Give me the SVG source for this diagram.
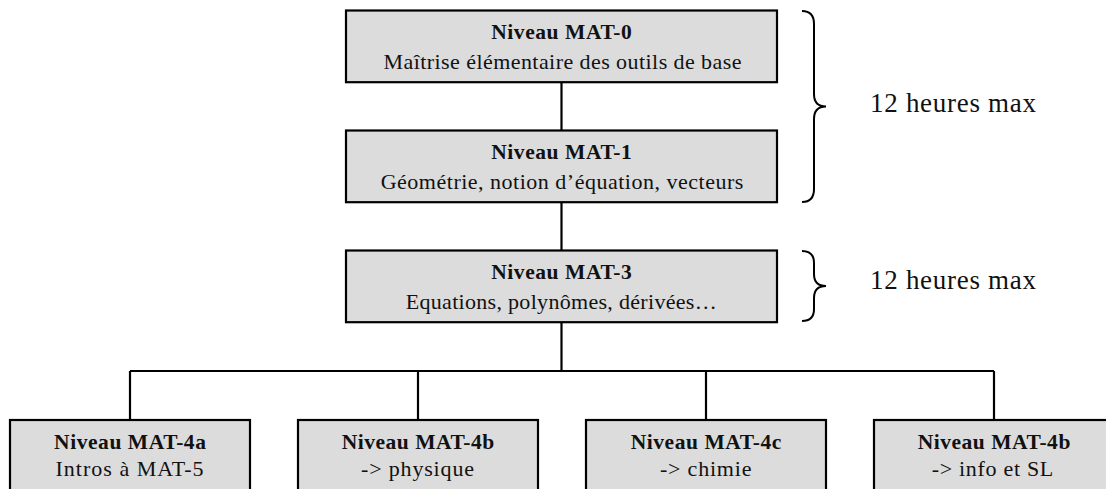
<svg xmlns="http://www.w3.org/2000/svg" width="1106" height="489" viewBox="0 0 1106 489">
<style>
.box{fill:#dcdcdc;stroke:#000;stroke-width:2.2}
.ln{fill:none;stroke:#000;stroke-width:2.2}
.br{fill:none;stroke:#000;stroke-width:2}
text{font-family:"Liberation Serif","Times New Roman",serif;fill:#111;text-anchor:middle}
.t{font-size:21.5px;font-weight:bold}
.s{font-size:22px}
.h{font-size:27px;text-anchor:start}
</style>
<rect width="1106" height="489" fill="#fff"/>
<g id="connectors">
<path class="ln" d="M561.5,82 V131 M561.5,202 V251 M561.5,322 V371 M130,371 H994 M130,371 V420 M418,371 V420 M706,371 V420 M994,371 V420"/>
</g>
<g id="mat0">
<rect class="box" x="346" y="10.5" width="431" height="71.7"/>
<text class="t" x="561.5" y="39.3" textLength="140.6">Niveau MAT-0</text>
<text class="s" x="562.5" y="69" textLength="358">Maîtrise élémentaire des outils de base</text>
</g>
<g id="mat1">
<rect class="box" x="346" y="130.5" width="431" height="71.7"/>
<text class="t" x="561.5" y="159.3" textLength="140.6">Niveau MAT-1</text>
<text class="s" x="562" y="189.3" textLength="362.6">Géométrie, notion d’équation, vecteurs</text>
</g>
<g id="mat3">
<rect class="box" x="346" y="250.5" width="431" height="71.7"/>
<text class="t" x="561.5" y="279.3" textLength="140.6">Niveau MAT-3</text>
<text class="s" x="561.2" y="308.5" textLength="311">Equations, polynômes, dérivées…</text>
</g>
<g id="brace1">
<path class="br" d="M802,11 Q814,11 814,24 L814,94 Q814,106.5 826,106.5 Q814,106.5 814,119 L814,189 Q814,202 802,202"/>
<text class="h" x="870" y="111.7" textLength="166">12 heures max</text>
</g>
<g id="brace2">
<path class="br" d="M802,251 Q814,251 814,263 L814,274 Q814,286 826,286 Q814,286 814,298 L814,309 Q814,321 802,321"/>
<text class="h" x="870" y="289" textLength="166">12 heures max</text>
</g>
<g id="mat4a">
<rect class="box" x="10" y="420" width="240" height="100"/>
<text class="t" x="130" y="448.5" textLength="151.8">Niveau MAT-4a</text>
<text class="s" x="129.5" y="476" textLength="148">Intros à MAT-5</text>
</g>
<g id="mat4b">
<rect class="box" x="298" y="420" width="240" height="100"/>
<text class="t" x="418" y="448.5" textLength="152.5">Niveau MAT-4b</text>
<text class="s" x="417.5" y="476" textLength="113">-&gt; physique</text>
</g>
<g id="mat4c">
<rect class="box" x="586" y="420" width="240" height="100"/>
<text class="t" x="706" y="448.5" textLength="150.7">Niveau MAT-4c</text>
<text class="s" x="705.7" y="476" textLength="91.4">-&gt; chimie</text>
</g>
<g id="mat4d">
<rect class="box" x="874" y="420" width="240" height="100"/>
<text class="t" x="994" y="448.5" textLength="152.7">Niveau MAT-4b</text>
<text class="s" x="992.5" y="476" textLength="121.6">-&gt; info et SL</text>
</g>
</svg>
